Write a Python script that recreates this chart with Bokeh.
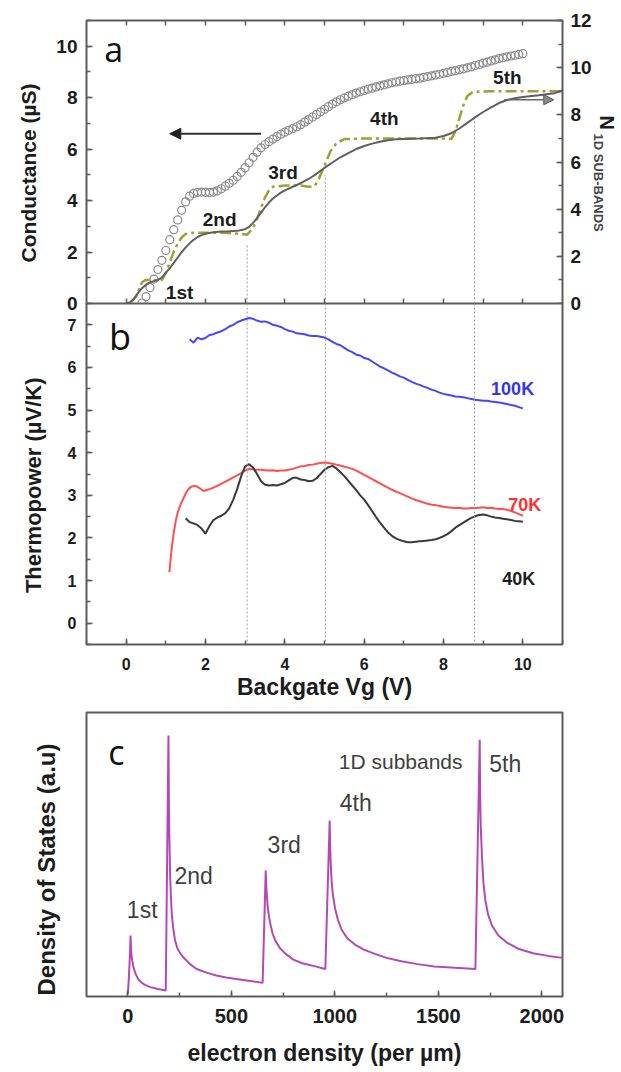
from bokeh.plotting import figure
from bokeh.layouts import column
from bokeh.models import (Range1d, LinearAxis, SingleIntervalTicker, FixedTicker,
                          Arrow, NormalHead, Span, Label, Title)
from bokeh.embed import file_html
from bokeh.resources import INLINE

# ------------------------------------------------------------------ data
# panel a: conductance (open circles, left axis, uS)
cond_vg = [0.4, 0.5, 0.6, 0.7, 0.8, 0.9, 1.0, 1.1, 1.2, 1.3,
           1.4, 1.5, 1.6, 1.7, 1.8, 1.9, 2.0, 2.1, 2.2, 2.3,
           2.4, 2.5, 2.6, 2.7, 2.8, 2.9, 3.0, 3.1, 3.2, 3.3,
           3.4, 3.5, 3.6, 3.7, 3.8, 3.9, 4.0, 4.1, 4.2, 4.3,
           4.4, 4.5, 4.6, 4.7, 4.8, 4.9, 5.0, 5.1, 5.2, 5.3,
           5.4, 5.5, 5.6, 5.7, 5.8, 5.9, 6.0, 6.1, 6.2, 6.3,
           6.4, 6.5, 6.6, 6.7, 6.8, 6.9, 7.0, 7.1, 7.2, 7.3,
           7.4, 7.5, 7.6, 7.7, 7.8, 7.9, 8.0, 8.1, 8.2, 8.3,
           8.4, 8.5, 8.6, 8.7, 8.8, 8.9, 9.0, 9.1, 9.2, 9.3,
           9.4, 9.5, 9.6, 9.7, 9.8, 9.9, 10.0]
cond_g = [0.02, 0.27, 0.62, 0.95, 1.32, 1.68, 2.06, 2.48, 2.87, 3.25,
          3.62, 3.95, 4.17, 4.28, 4.32, 4.33, 4.32, 4.31, 4.33, 4.38,
          4.46, 4.56, 4.67, 4.79, 4.94, 5.10, 5.28, 5.47, 5.68, 5.88,
          6.05, 6.18, 6.29, 6.39, 6.49, 6.58, 6.66, 6.73, 6.80, 6.87,
          6.95, 7.05, 7.15, 7.25, 7.35, 7.45, 7.55, 7.65, 7.75, 7.84,
          7.92, 7.99, 8.06, 8.12, 8.18, 8.23, 8.28, 8.33, 8.37, 8.42,
          8.46, 8.50, 8.54, 8.58, 8.61, 8.64, 8.66, 8.69, 8.71, 8.74,
          8.76, 8.79, 8.82, 8.85, 8.88, 8.91, 8.95, 8.98, 9.02, 9.05,
          9.09, 9.12, 9.16, 9.20, 9.25, 9.29, 9.34, 9.38, 9.43, 9.47,
          9.52, 9.55, 9.59, 9.62, 9.65, 9.68, 9.71]

# panel a: number of 1D sub-bands (solid line, right axis)
nsub_vg = [0.0, 0.1, 0.2, 0.3, 0.4, 0.5, 0.6, 0.7, 0.8, 0.9, 1.0, 1.1, 1.2,
           1.3, 1.4, 1.5, 1.6, 1.7, 1.8, 1.9, 2.0, 2.2, 2.4, 2.6, 2.8, 3.0,
           3.1, 3.2, 3.3, 3.4, 3.5, 3.6, 3.7, 3.8, 3.9, 4.0, 4.2, 4.4, 4.6,
           4.8, 5.0, 5.2, 5.4, 5.6, 5.8, 6.0, 6.2, 6.4, 6.6, 6.8, 7.0, 7.4,
           7.8, 8.0, 8.2, 8.4, 8.6, 8.8, 9.0, 9.2, 9.4, 9.6, 9.8, 10.0, 10.4,
           10.8, 11.0]
nsub_n = [0.0, 0.05, 0.2, 0.45, 0.65, 0.8, 0.9, 0.95, 1.0, 1.1, 1.3, 1.5, 1.72,
          1.95, 2.18, 2.38, 2.55, 2.7, 2.82, 2.9, 2.96, 3.02, 3.05, 3.06, 3.08, 3.15,
          3.25, 3.42, 3.62, 3.85, 4.08, 4.28, 4.45, 4.58, 4.7, 4.8, 4.95, 5.1, 5.28,
          5.5, 5.75, 5.98, 6.2, 6.38, 6.55, 6.68, 6.78, 6.86, 6.92, 6.96, 6.98, 7.0,
          7.03, 7.1, 7.22, 7.42, 7.66, 7.9, 8.12, 8.32, 8.5, 8.63, 8.7, 8.76, 8.83,
          8.92, 9.03]

# panel a: step-like sub-band count (dash-dot line, right axis)
step_vg = [0.1, 0.25, 0.4, 0.5, 0.9, 1.0, 1.1, 1.2, 1.3, 1.4, 1.5, 1.7, 2.0,
           2.5, 2.9, 3.05, 3.2, 3.3, 3.4, 3.5, 3.6, 3.7, 4.0, 4.4, 4.6, 4.75,
           4.85, 4.95, 5.05, 5.15, 5.3, 5.5, 6.0, 7.0, 7.8, 8.2, 8.3, 8.4, 8.5,
           8.6, 8.75, 9.2, 10.0, 11.0]
step_n = [0.0, 0.3, 0.9, 1.0, 1.0, 1.3, 1.75, 2.2, 2.55, 2.8, 2.95, 3.0, 3.0,
          3.0, 2.95, 2.92, 3.2, 3.6, 4.05, 4.5, 4.8, 4.95, 5.0, 5.0, 4.95, 4.98,
          5.25, 5.65, 6.05, 6.45, 6.8, 6.97, 7.0, 7.0, 7.0, 6.98, 7.3, 7.85, 8.4,
          8.8, 8.98, 9.0, 9.0, 9.0]

# sub-band onsets (dotted guides) and where the guides start in panel a
onset_vg = [3.05, 5.02, 8.78]
onset_top_n = [2.5, 5.45, 7.9]
band_labels_a = ["1st", "2nd", "3rd", "4th", "5th"]

# panel b: thermopower (uV/K)
tp100_vg = [1.6, 1.7, 1.8, 1.9, 2.0, 2.1, 2.2, 2.3, 2.4, 2.5,
            2.6, 2.7, 2.8, 2.9, 3.0, 3.1, 3.2, 3.3, 3.4, 3.5,
            3.6, 3.7, 3.8, 3.9, 4.0, 4.1, 4.2, 4.3, 4.4, 4.5,
            4.6, 4.7, 4.8, 4.9, 5.0, 5.1, 5.2, 5.3, 5.4, 5.5,
            5.6, 5.7, 5.8, 5.9, 6.0, 6.1, 6.2, 6.3, 6.4, 6.5,
            6.6, 6.7, 6.8, 6.9, 7.0, 7.1, 7.2, 7.3, 7.4, 7.5,
            7.6, 7.7, 7.8, 7.9, 8.0, 8.1, 8.2, 8.3, 8.4, 8.5,
            8.6, 8.7, 8.8, 8.9, 9.0, 9.1, 9.2, 9.3, 9.4, 9.5,
            9.6, 9.7, 9.8, 9.9, 10.0]
tp100 = [6.66, 6.58, 6.70, 6.66, 6.69, 6.76, 6.78, 6.82, 6.85, 6.90,
         6.96, 7.00, 7.06, 7.10, 7.13, 7.16, 7.14, 7.10, 7.07, 7.08,
         7.05, 7.00, 6.98, 6.95, 6.90, 6.86, 6.84, 6.80, 6.79, 6.78,
         6.75, 6.74, 6.74, 6.72, 6.70, 6.66, 6.60, 6.55, 6.52, 6.46,
         6.40, 6.36, 6.30, 6.28, 6.22, 6.20, 6.14, 6.08, 6.02, 5.98,
         5.93, 5.88, 5.84, 5.79, 5.76, 5.71, 5.66, 5.62, 5.59, 5.55,
         5.52, 5.48, 5.45, 5.41, 5.38, 5.36, 5.34, 5.32, 5.31, 5.30,
         5.28, 5.26, 5.24, 5.23, 5.22, 5.22, 5.20, 5.19, 5.18, 5.16,
         5.14, 5.12, 5.10, 5.07, 5.04]

tp70_vg = [1.09, 1.12, 1.16, 1.2, 1.25, 1.3, 1.37, 1.44, 1.5, 1.56,
           1.62, 1.7, 1.78, 1.86, 1.95, 2.05, 2.12, 2.2, 2.3, 2.4,
           2.5, 2.6, 2.7, 2.8, 2.9, 3.0, 3.1, 3.2, 3.3, 3.4,
           3.5, 3.6, 3.7, 3.8, 3.9, 4.0, 4.1, 4.2, 4.3, 4.4,
           4.5, 4.6, 4.7, 4.8, 4.9, 5.0, 5.1, 5.2, 5.3, 5.4,
           5.5, 5.6, 5.7, 5.8, 5.9, 6.0, 6.1, 6.2, 6.3, 6.4,
           6.5, 6.6, 6.7, 6.8, 6.9, 7.0, 7.1, 7.2, 7.3, 7.4,
           7.5, 7.6, 7.7, 7.8, 7.9, 8.0, 8.1, 8.2, 8.3, 8.4,
           8.5, 8.6, 8.7, 8.8, 8.9, 9.0, 9.1, 9.2, 9.3, 9.4,
           9.5, 9.6, 9.7, 9.8, 9.9, 10.0]
tp70 = [1.20, 1.50, 1.85, 2.12, 2.40, 2.60, 2.78, 2.92, 3.04, 3.13,
        3.19, 3.22, 3.21, 3.16, 3.10, 3.13, 3.15, 3.18, 3.22, 3.27,
        3.32, 3.37, 3.42, 3.47, 3.52, 3.58, 3.62, 3.61, 3.60, 3.60,
        3.59, 3.58, 3.59, 3.57, 3.58, 3.58, 3.60, 3.62, 3.65, 3.68,
        3.69, 3.71, 3.72, 3.74, 3.76, 3.77, 3.76, 3.74, 3.72, 3.70,
        3.67, 3.65, 3.62, 3.58, 3.53, 3.48, 3.43, 3.38, 3.33, 3.28,
        3.23, 3.18, 3.13, 3.09, 3.05, 3.01, 2.97, 2.93, 2.89, 2.86,
        2.83, 2.80, 2.78, 2.77, 2.75, 2.73, 2.72, 2.71, 2.70, 2.71,
        2.69, 2.69, 2.70, 2.70, 2.71, 2.72, 2.70, 2.71, 2.69, 2.68,
        2.68, 2.66, 2.63, 2.60, 2.56, 2.52]

tp40_vg = [1.5, 1.6, 1.7, 1.8, 1.9, 2.0, 2.1, 2.2, 2.3, 2.4,
           2.5, 2.6, 2.7, 2.8, 2.9, 3.0, 3.1, 3.2, 3.3, 3.4,
           3.5, 3.6, 3.7, 3.8, 3.9, 4.0, 4.1, 4.2, 4.3, 4.4,
           4.5, 4.6, 4.7, 4.8, 4.9, 5.0, 5.1, 5.2, 5.3, 5.4,
           5.5, 5.6, 5.7, 5.8, 5.9, 6.0, 6.1, 6.2, 6.3, 6.4,
           6.5, 6.6, 6.7, 6.8, 6.9, 7.0, 7.1, 7.2, 7.3, 7.4,
           7.5, 7.6, 7.7, 7.8, 7.9, 8.0, 8.1, 8.2, 8.3, 8.4,
           8.5, 8.6, 8.7, 8.8, 8.9, 9.0, 9.1, 9.2, 9.3, 9.4,
           9.5, 9.6, 9.7, 9.8, 9.9, 10.0]
tp40 = [2.46, 2.37, 2.34, 2.30, 2.22, 2.10, 2.28, 2.42, 2.48, 2.52,
        2.58, 2.70, 2.90, 3.15, 3.45, 3.68, 3.73, 3.65, 3.50, 3.33,
        3.25, 3.23, 3.24, 3.23, 3.26, 3.29, 3.35, 3.41, 3.41, 3.37,
        3.36, 3.33, 3.34, 3.40, 3.50, 3.60, 3.66, 3.69, 3.63, 3.54,
        3.45, 3.34, 3.23, 3.12, 3.00, 2.90, 2.77, 2.63, 2.49, 2.36,
        2.24, 2.13, 2.05, 1.99, 1.95, 1.92, 1.90, 1.90, 1.91, 1.92,
        1.93, 1.94, 1.95, 1.97, 2.00, 2.04, 2.09, 2.16, 2.24, 2.30,
        2.36, 2.42, 2.47, 2.51, 2.54, 2.55, 2.53, 2.50, 2.48, 2.47,
        2.45, 2.44, 2.42, 2.40, 2.39, 2.38]
temp_labels = ["100K", "70K", "40K"]

# panel c: density of states vs electron density (per um)
dos_n = [0, 5, 10, 13, 15, 18, 21, 28, 37, 48, 61, 80, 108, 140, 183,
         196, 198, 200, 204, 208, 212, 220, 228, 240, 255, 268, 300, 332, 380,
         427, 475, 523, 600, 651,
         666, 668, 671, 675, 682, 690, 700, 714, 735, 762, 800, 842, 906, 954,
         975, 977, 980, 984, 990, 1001, 1015, 1033, 1060, 1097, 1140, 1193,
         1250, 1321, 1400, 1480, 1580, 1679,
         1700, 1702, 1705, 1711, 1718, 1727, 1740, 1759, 1790, 1831, 1890,
         1958, 2030, 2100]
dos = [0.01, 0.07, 0.15, 0.215, 0.17, 0.14, 0.127, 0.10, 0.08, 0.064, 0.052, 0.042, 0.033, 0.027, 0.021,
       0.919, 0.70, 0.58, 0.43, 0.35, 0.29, 0.235, 0.197, 0.168, 0.15, 0.138, 0.114, 0.097, 0.084,
       0.074, 0.067, 0.062, 0.054, 0.048,
       0.444, 0.40, 0.36, 0.32, 0.28, 0.25, 0.22, 0.195, 0.17, 0.15, 0.13, 0.117, 0.106, 0.097,
       0.62, 0.54, 0.47, 0.41, 0.36, 0.31, 0.27, 0.235, 0.205, 0.183, 0.165, 0.15,
       0.136, 0.124, 0.114, 0.106, 0.101, 0.097,
       0.904, 0.72, 0.60, 0.49, 0.40, 0.34, 0.29, 0.25, 0.215, 0.19, 0.167,
       0.152, 0.143, 0.136]
band_labels_c = ["1st", "2nd", "3rd", "4th", "5th"]

# ------------------------------------------------------------------ style
FONT = "Liberation Sans"
FRAME = "#5c5c5c"
TXT = "#1c1c1c"
W = 621
ML, MR = 82, 59


def base_fig(**kw):
    p = figure(width=W, output_backend="svg", toolbar_location=None,
               min_border_left=ML, min_border_right=MR, **kw)
    p.xgrid.visible = False
    p.ygrid.visible = False
    p.outline_line_color = FRAME
    p.outline_line_width = 2
    p.background_fill_color = "white"
    return p


def style_axis(ax, lab_size="16px", standoff=8, title_size="21px", title_standoff=10):
    ax.axis_line_color = None
    ax.major_tick_in = 6
    ax.major_tick_out = 0
    ax.minor_tick_in = 4
    ax.minor_tick_out = 0
    ax.major_tick_line_color = FRAME
    ax.minor_tick_line_color = FRAME
    ax.major_tick_line_width = 1.5
    ax.minor_tick_line_width = 1.5
    ax.major_label_text_font = FONT
    ax.major_label_text_font_style = "bold"
    ax.major_label_text_color = TXT
    ax.major_label_text_font_size = lab_size
    ax.major_label_standoff = standoff
    ax.axis_label_text_font = FONT
    ax.axis_label_text_font_style = "bold"
    ax.axis_label_text_color = TXT
    ax.axis_label_text_font_size = title_size
    ax.axis_label_standoff = title_standoff


def side_title(p, text, side, size, standoff, offset, align, color=TXT):
    t = Title(text=text, align=align, offset=offset, standoff=standoff,
              text_font=FONT, text_font_style="bold", text_font_size=size,
              text_color=color)
    p.add_layout(t, side)


# ------------------------------------------------------------------ panel a
xr = Range1d(-1, 11)
pa = base_fig(height=315, x_range=xr, y_range=Range1d(0, 11),
              min_border_top=20, min_border_bottom=12)
pa.extra_y_ranges = {"nsub": Range1d(0, 12)}

# bottom and top edges: tick marks only (no labels)
pa.xaxis.ticker = FixedTicker(ticks=[], minor_ticks=list(range(0, 11)))
style_axis(pa.xaxis[0])
pa.xaxis.minor_tick_in = 5
top_ax = LinearAxis(ticker=FixedTicker(ticks=[], minor_ticks=list(range(0, 11))))
style_axis(top_ax)
top_ax.minor_tick_in = 5
pa.add_layout(top_ax, "above")

pa.yaxis.ticker = SingleIntervalTicker(interval=2, num_minor_ticks=2)
style_axis(pa.yaxis[0], lab_size="19px", standoff=9)
side_title(pa, "Conductance (µS)", "left", "21px", standoff=28, offset=63, align="right")

r_ax = LinearAxis(y_range_name="nsub", ticker=SingleIntervalTicker(interval=2, num_minor_ticks=2))
style_axis(r_ax, lab_size="19px", standoff=8)
pa.add_layout(r_ax, "right")
side_title(pa, "1D SUB-BANDS", "right", "13px", standoff=-8, offset=113, align="left", color="#444444")
side_title(pa, "N", "right", "20px", standoff=-16, offset=95, align="left")

pa.segment(x0=onset_vg, y0=[0] * len(onset_vg), x1=onset_vg, y1=onset_top_n, y_range_name="nsub",
           line_color="#9a9a9a", line_width=1, line_dash="2 2")

pa.scatter(cond_vg, cond_g, marker="circle", size=8, fill_color=None,
           line_color="#8a8a8a", line_width=1.2)
pa.line(step_vg, step_n, y_range_name="nsub", line_color="#a0a032",
        line_width=2.5, line_dash="11 4 3 4")
pa.line(nsub_vg, nsub_n, y_range_name="nsub", line_color="#606060", line_width=2)

pa.add_layout(Arrow(end=NormalHead(size=11, fill_color="#222222", line_color="#222222"),
                    x_start=3.4, y_start=6.6, x_end=1.1, y_end=6.6,
                    line_color="#333333", line_width=2))
pa.add_layout(Arrow(end=NormalHead(size=10, fill_color="#8a8a8a", line_color="#555555"),
                    x_start=9.53, y_start=8.64, x_end=10.78, y_end=8.64, y_range_name="nsub",
                    line_color="#666666", line_width=1.5))

pa.add_layout(Label(x=-0.55, y=9.9, text="a", text_font="Open Sans", text_font_size="34px",
                    text_color="#111111", text_baseline="middle", text_align="left"))
for t, (lx, ly) in zip(band_labels_a, [(1.0, 0.43), (1.93, 3.26), (3.58, 5.09), (6.15, 7.19), (9.25, 8.78)]):
    pa.add_layout(Label(x=lx, y=ly, text=t, text_font=FONT, text_font_style="bold",
                        text_font_size="19px", text_color=TXT,
                        text_baseline="middle", text_align="left"))

# ------------------------------------------------------------------ panel b
pb = base_fig(height=403, x_range=xr, y_range=Range1d(-0.5, 7.5),
              min_border_top=0, min_border_bottom=62,
              styles={"margin-top": "-12px"})
pb.border_fill_color = None
pb.xaxis.ticker = SingleIntervalTicker(interval=2, num_minor_ticks=2)
pb.xaxis.axis_label = "Backgate Vg (V)"
style_axis(pb.xaxis[0], lab_size="16px", standoff=13, title_size="23px", title_standoff=1)
pb.yaxis.ticker = SingleIntervalTicker(interval=1, num_minor_ticks=2)
style_axis(pb.yaxis[0], lab_size="16px", standoff=10)
side_title(pb, "Thermopower (µV/K)", "left", "22px", standoff=37, offset=74, align="right")

for v in onset_vg:
    pb.add_layout(Span(location=v, dimension="height", line_color="#9a9a9a",
                       line_width=1, line_dash="2 2"))

pb.line(tp100_vg, tp100, line_color="#4646ff", line_width=2)
pb.line(tp70_vg, tp70, line_color="#ff4f4f", line_width=2)
pb.line(tp40_vg, tp40, line_color="#3a3a3a", line_width=2)

pb.add_layout(Label(x=-0.43, y=6.72, text="b", text_font="Open Sans", text_font_size="36px",
                    text_color="#111111", text_baseline="middle", text_align="left"))
for t, (lx, ly), c in zip(temp_labels, [(9.2, 5.49), (9.63, 2.77), (9.48, 1.03)],
                          ["#3434f0", "#ff3030", "#1e1e1e"]):
    pb.add_layout(Label(x=lx, y=ly, text=t, text_font=FONT, text_font_style="bold",
                        text_font_size="18px", text_color=c,
                        text_baseline="middle", text_align="left"))

# ------------------------------------------------------------------ panel c
pc = base_fig(height=362, x_range=Range1d(-200, 2100), y_range=Range1d(0, 1),
              min_border_top=6, min_border_bottom=72)
pc.xaxis.ticker = SingleIntervalTicker(interval=500, num_minor_ticks=2)
pc.xaxis.axis_label = "electron density (per µm)"
style_axis(pc.xaxis[0], lab_size="20px", standoff=12, title_size="23px", title_standoff=14)
pc.yaxis.visible = False
side_title(pc, "Density of States (a.u)", "left", "24px", standoff=54, offset=31, align="right")

pc.line(dos_n, dos, line_color="#b648b6", line_width=2)

pc.add_layout(Label(x=-95, y=0.86, text="c", text_font="Open Sans", text_font_size="34px",
                    text_color="#111111", text_baseline="middle", text_align="left"))
for t, (lx, ly) in zip(band_labels_c, [(-5, 0.303), (225, 0.426), (675, 0.535), (1024, 0.68), (1746, 0.82)]):
    pc.add_layout(Label(x=lx, y=ly, text=t, text_font=FONT, text_font_size="23px",
                        text_color="#404040", text_baseline="middle", text_align="left"))
pc.add_layout(Label(x=1019, y=0.827, text="1D subbands", text_font=FONT, text_font_size="21px",
                    text_color="#404040", text_baseline="middle", text_align="left"))

layout = column(pa, pb, pc, spacing=0)
open("out.html", "w").write(file_html(layout, INLINE))
